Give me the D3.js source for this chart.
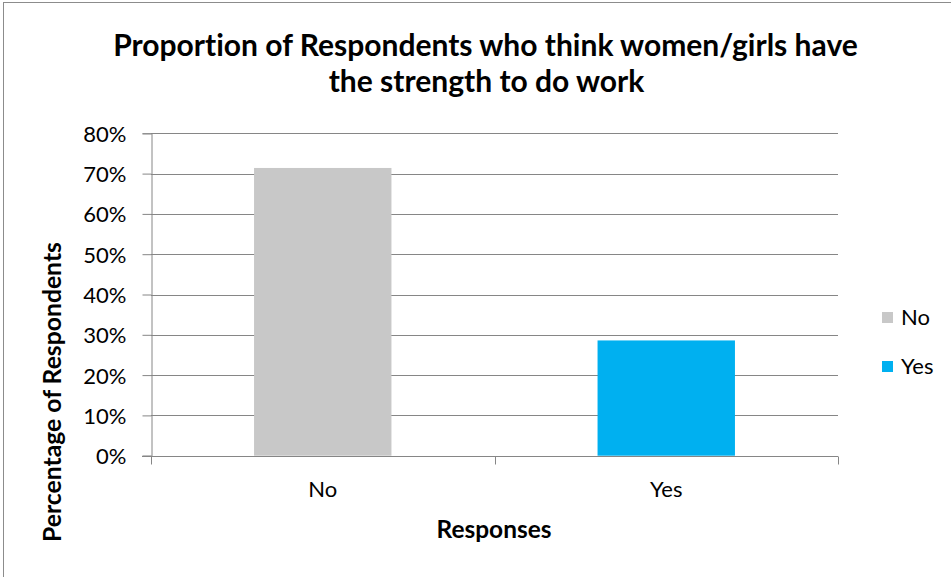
<!DOCTYPE html>
<html>
<head>
<meta charset="utf-8">
<script src="https://cdn.jsdelivr.net/npm/d3@7"></script>
<style>
  html, body { margin: 0; padding: 0; background: #fff; }
  svg { display: block; }
  text { font-family: Lato, "Open Sans", "Liberation Sans", sans-serif; fill: #000; font-variant-ligatures: none; }
</style>
</head>
<body>
<svg id="chart" width="951" height="577"></svg>
<script>
// Survey responses: share of respondents per answer
const categories = ["No", "Yes"];
const values = [0.714, 0.286];
const colors = ["#c8c8c8", "#00b0f0"];
const yTicks = [0, 0.1, 0.2, 0.3, 0.4, 0.5, 0.6, 0.7, 0.8];
const titleLines = ["Proportion of Respondents who think women/girls have", "the strength to do work"];
const xTitle = "Responses";
const yTitle = "Percentage of Respondents";

const svg = d3.select("#chart");
const plot = { left: 151, right: 838, top: 133.3, bottom: 455.7 };

// Outer chart frame (right/bottom edges run off the canvas)
svg.append("rect")
  .attr("x", 3.5).attr("y", 2.5)
  .attr("width", 960).attr("height", 600)
  .attr("fill", "none").attr("stroke", "#8c8c8c").attr("stroke-width", 1);

// Scales
const y = d3.scaleLinear().domain([0, 0.8]).range([plot.bottom, plot.top]);
const xSlot = d3.scaleBand().domain(categories).range([plot.left, plot.right]).padding(0);
const barFrac = 0.4;

// Helper: scale font-size so a text spans a target width
function fitWidth(sel, target) {
  const node = sel.node();
  const fs = parseFloat(sel.attr("font-size"));
  const w = node.getComputedTextLength();
  sel.attr("font-size", (fs * target / w).toFixed(2));
}

// Gridlines
svg.append("g").selectAll("line")
  .data(yTicks.filter(d => d > 0))
  .join("line")
  .attr("x1", plot.left).attr("x2", plot.right)
  .attr("y1", d => Math.round(y(d)) + 0.5).attr("y2", d => Math.round(y(d)) + 0.5)
  .attr("stroke", "#868686").attr("stroke-width", 1);

// Bars
svg.append("g").selectAll("rect")
  .data(categories)
  .join("rect")
  .attr("x", d => xSlot(d) + xSlot.bandwidth() * (1 - barFrac) / 2)
  .attr("width", xSlot.bandwidth() * barFrac)
  .attr("y", (d, i) => y(values[i]))
  .attr("height", (d, i) => plot.bottom - y(values[i]))
  .attr("fill", (d, i) => colors[i]);

// Y axis
const yAxis = svg.append("g")
  .attr("transform", `translate(${plot.left + 0.5},0)`)
  .call(d3.axisLeft(y).tickValues(yTicks).tickFormat(d3.format(".0%")).tickSize(9).tickPadding(16));
yAxis.select(".domain").attr("stroke", "#868686");
yAxis.selectAll(".tick line").attr("stroke", "#868686");
yAxis.selectAll(".tick text")
  .attr("font-size", 22).attr("font-family", "Lato, sans-serif").attr("fill", "#000")
  .attr("dy", "0.36em");

// X axis: line, boundary ticks and centred labels
const xAxis = svg.append("g")
  .attr("transform", `translate(0,${Math.round(plot.bottom) + 0.5})`)
  .call(d3.axisBottom(xSlot).tickSize(0).tickPadding(25));
xAxis.select(".domain").remove();
xAxis.selectAll(".tick text")
  .attr("font-size", 22).attr("font-family", "Lato, sans-serif").attr("fill", "#000");
xAxis.append("line")
  .attr("x1", plot.left - 9).attr("x2", plot.right)
  .attr("stroke", "#868686");
const bounds = categories.map(c => xSlot(c)).concat([plot.right]);
xAxis.selectAll("line.bound")
  .data(bounds)
  .join("line").attr("class", "bound")
  .attr("x1", d => Math.round(d) + 0.5).attr("x2", d => Math.round(d) + 0.5)
  .attr("y1", 0).attr("y2", 8)
  .attr("stroke", "#868686");

// Title
const title = svg.append("g");
const t1 = title.append("text")
  .attr("x", 485.5).attr("y", 56)
  .attr("text-anchor", "middle").attr("font-weight", 700).attr("font-size", 26)
  .text(titleLines[0]);
fitWidth(t1, 745);
title.append("text")
  .attr("x", 486.5).attr("y", 92)
  .attr("text-anchor", "middle").attr("font-weight", 700).attr("font-size", t1.attr("font-size"))
  .text(titleLines[1]);

// Axis titles
const xt = svg.append("text")
  .attr("x", 494).attr("y", 538)
  .attr("text-anchor", "middle").attr("font-weight", 700).attr("font-size", 20)
  .text(xTitle);
fitWidth(xt, 115);

const yt = svg.append("text")
  .attr("transform", "translate(61,392) rotate(-90)")
  .attr("text-anchor", "middle").attr("font-weight", 700).attr("font-size", 20)
  .text(yTitle);
fitWidth(yt, 300);

// Legend
const legend = svg.append("g").selectAll("g")
  .data(categories)
  .join("g")
  .attr("transform", (d, i) => `translate(882,${312 + i * 49})`);
legend.append("rect")
  .attr("width", 11).attr("height", 11)
  .attr("fill", (d, i) => colors[i]);
legend.append("text")
  .attr("x", 19).attr("y", 5.5).attr("dy", "0.36em")
  .attr("font-size", 22)
  .text(d => d);
</script>
</body>
</html>
